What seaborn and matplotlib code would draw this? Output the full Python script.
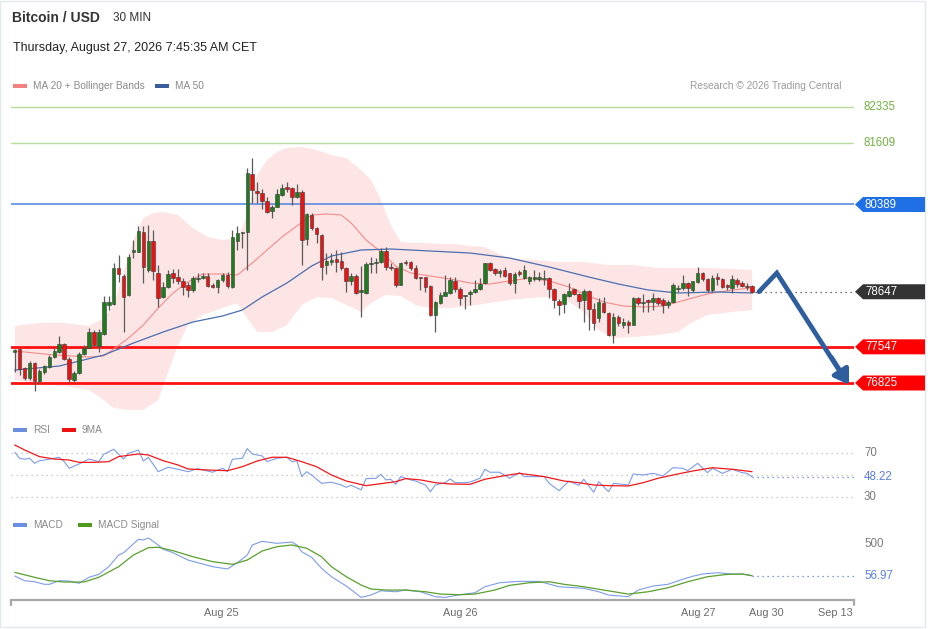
import numpy as np
import seaborn as sns
import matplotlib.pyplot as plt
from matplotlib.patches import Polygon, Rectangle

# ---------------- data (30 min candles) ----------------
opens = [
    77444, 77504, 77124, 76925, 77224, 76865, 77044, 77144, 77344, 77444,
    77603, 77304, 76885, 77024, 77404, 77524, 77843, 77563, 77803, 78382,
    78402, 79121, 78961, 78582, 79440, 79440, 79839, 79081, 79660, 79021,
    78542, 78742, 79021, 78941, 78861, 78781, 78682, 78901, 78921, 78961,
    78781, 78742, 78881, 78981, 78742, 79660, 79810, 79839, 80997, 80658,
    80618, 80458, 80259, 80339, 80578, 80738, 80718, 80538, 80638, 79700,
    80179, 79919, 79779, 79180, 79240, 79300, 79260, 79121, 78861, 78961,
    78642, 78622, 79200, 79220, 79240, 79460, 79141, 79121, 78781, 79240,
    79240, 79121, 78941, 78941, 78761, 78183, 78422, 78562, 78622, 78861,
    78702, 78562, 78602, 78642, 78702, 78821, 79220, 79101, 79021, 79081,
    79021, 78821, 79041, 78921, 78861, 78901, 78901, 78901, 78921, 78702,
    78462, 78402, 78562, 78702, 78602, 78482, 78662, 78302, 78123, 78422,
    78223, 77783, 78143, 77983, 78043, 77983, 78522, 78422, 78482, 78442,
    78522, 78482, 78382, 78442, 78702, 78722, 78821, 78682, 78841, 79021,
    78901, 78682, 78941, 78901, 78781, 78722, 78881, 78821, 78761, 78761,
]
highs = [
    77504, 77524, 77144, 77264, 77244, 77104, 77184, 77384, 77524, 77763,
    77623, 77344, 77064, 77444, 77583, 77923, 77883, 77903, 78562, 78562,
    79220, 79380, 79001, 79400, 79680, 79959, 79959, 79979, 79879, 79180,
    78841, 79081, 79101, 79101, 78921, 78841, 78961, 79021, 79021, 79021,
    78821, 78901, 79021, 79041, 79879, 79959, 79839, 81117, 81317, 80838,
    80698, 80538, 80378, 80698, 80798, 80838, 80738, 80798, 80678, 80219,
    80219, 79939, 79799, 79420, 79420, 79480, 79440, 79141, 79021, 79001,
    79161, 79240, 79340, 79320, 79520, 79540, 79220, 79141, 79240, 79280,
    79260, 79180, 78950, 78950, 78781, 78462, 78642, 78981, 78941, 78941,
    78742, 78590, 78682, 78881, 78921, 79230, 79240, 79121, 79101, 79141,
    79030, 79041, 79081, 79180, 78961, 79081, 79041, 79081, 78941, 78722,
    78502, 78622, 78821, 78722, 78622, 78702, 78682, 78422, 78522, 78542,
    78243, 78223, 78183, 78123, 78083, 78542, 78542, 78602, 78502, 78622,
    78542, 78522, 78482, 78821, 78781, 78981, 78841, 78861, 79141, 79041,
    78921, 78981, 79021, 78921, 78801, 78981, 78921, 78861, 78821, 78781,
]
lows = [
    77044, 76985, 76885, 76885, 76665, 76825, 77004, 77124, 77324, 77424,
    77284, 76845, 76845, 77004, 77384, 77524, 77563, 77444, 77783, 78282,
    78382, 78841, 77843, 78562, 79320, 79440, 78821, 79041, 78881, 78342,
    78522, 78722, 78821, 78801, 78582, 78542, 78642, 78841, 78901, 78742,
    78722, 78622, 78841, 78722, 78722, 79480, 79520, 79081, 80418, 80418,
    80299, 80219, 80119, 80339, 80558, 80638, 80378, 80518, 79180, 79580,
    79879, 79620, 78881, 79001, 79180, 79041, 79081, 78642, 78781, 78602,
    78143, 78602, 79021, 79021, 79220, 79081, 79081, 78742, 78781, 79180,
    79081, 78901, 78682, 78642, 78170, 77843, 78402, 78562, 78602, 78642,
    78382, 78302, 78382, 78622, 78682, 78801, 79061, 78981, 78941, 78941,
    78781, 78622, 78961, 78901, 78801, 78861, 78861, 78781, 78522, 78322,
    78183, 78223, 78542, 78582, 78322, 78043, 77883, 77883, 78043, 78223,
    77763, 77623, 77963, 77923, 77823, 77983, 78382, 78243, 78243, 78282,
    78382, 78223, 78322, 78422, 78642, 78682, 78562, 78642, 78821, 78861,
    78642, 78642, 78781, 78722, 78682, 78622, 78742, 78742, 78682, 78622,
]
closes = [
    77484, 77104, 76925, 77224, 76865, 77064, 77164, 77344, 77464, 77603,
    77304, 76905, 77024, 77404, 77524, 77843, 77583, 77843, 78442, 78442,
    79121, 79001, 78542, 79340, 79480, 79859, 79141, 79660, 79061, 78522,
    78742, 79001, 78921, 78861, 78742, 78682, 78921, 78921, 78961, 78761,
    78742, 78881, 78981, 78761, 79740, 79819, 79839, 81017, 80678, 80618,
    80458, 80239, 80339, 80598, 80718, 80698, 80538, 80638, 79680, 80199,
    79919, 79799, 79141, 79260, 79280, 79240, 79121, 78861, 78961, 78622,
    78682, 79200, 79220, 79240, 79460, 79141, 79121, 78781, 79220, 79220,
    79121, 78921, 78921, 78742, 78183, 78442, 78582, 78642, 78881, 78702,
    78522, 78582, 78642, 78702, 78801, 79220, 79081, 79021, 79061, 78961,
    78821, 79001, 79001, 79081, 78941, 78941, 78941, 78921, 78702, 78482,
    78382, 78602, 78662, 78602, 78462, 78662, 78302, 78023, 78442, 78243,
    77783, 78143, 78023, 78043, 77983, 78522, 78422, 78442, 78442, 78522,
    78422, 78382, 78442, 78781, 78722, 78821, 78722, 78861, 79021, 78901,
    78682, 78921, 78901, 78742, 78742, 78901, 78801, 78761, 78742, 78647,
]

# Bollinger bands / moving averages, read at sample candles
bb_up_idx = [0, 5, 10, 15, 18, 20, 22, 24, 26, 28, 30, 33, 36, 39, 42, 45, 47, 49, 51, 53,
             55, 58, 61, 64, 67, 70, 72, 74, 76, 78, 80, 83, 86, 89, 92, 95, 97, 100, 105,
             110, 115, 120, 125, 130, 135, 140, 145, 149]
bb_up = [77963, 78023, 78023, 77963, 78123, 78382, 79041, 79680, 80119, 80219, 80239, 80179,
         79919, 79740, 79680, 79720, 80179, 80978, 81277, 81437, 81517, 81537, 81477, 81377,
         81317, 81077, 80878, 80478, 79979, 79640, 79620, 79620, 79600, 79600, 79560, 79540,
         79440, 79320, 79280, 79240, 79240, 79180, 79180, 79121, 79121, 79121, 79101, 79081]
bb_low_idx = [0, 5, 10, 15, 18, 20, 23, 26, 29, 31, 33, 35, 38, 42, 45, 47, 49, 52, 55, 58,
              61, 64, 67, 70, 72, 75, 78, 81, 84, 88, 92, 96, 100, 104, 108, 112, 115, 118,
              121, 125, 130, 134, 137, 140, 145, 149]
bb_low = [76885, 76805, 76765, 76685, 76485, 76326, 76286, 76286, 76485, 77044, 77583, 77983,
          78183, 78322, 78422, 78123, 77843, 77843, 77983, 78382, 78542, 78522, 78382, 78243,
          78422, 78582, 78562, 78382, 78322, 78322, 78362, 78422, 78482, 78522, 78542, 78442,
          78243, 77883, 77723, 77743, 77783, 77843, 78043, 78183, 78243, 78282]
ma20_idx = [0, 8, 15, 18, 20, 23, 26, 29, 32, 35, 38, 42, 45, 48, 51, 54, 57, 60, 63, 66,
            68, 71, 74, 77, 80, 84, 88, 92, 96, 100, 104, 108, 112, 116, 119, 123, 127, 131,
            134, 137, 140, 145, 149]
ma20 = [77464, 77384, 77344, 77364, 77504, 77723, 77983, 78322, 78622, 78841, 79001, 79001,
        78981, 79220, 79480, 79740, 79959, 80179, 80199, 80179, 80019, 79680, 79440, 79161,
        79021, 78961, 78901, 78821, 78801, 78861, 78921, 78861, 78742, 78562, 78442, 78362,
        78342, 78362, 78442, 78522, 78602, 78682, 78722]
ma50_idx = [0, 9, 18, 24, 30, 36, 42, 46, 50, 55, 60, 64, 70, 76, 84, 92, 100, 108, 116, 122,
            128, 134, 142, 149]
ma50 = [77084, 77164, 77384, 77623, 77843, 78043, 78163, 78282, 78542, 78821, 79161, 79360,
        79480, 79500, 79460, 79420, 79320, 79141, 78941, 78801, 78682, 78622, 78642, 78622]

# RSI panel
rsi_idx = [0, 1, 2, 3, 4, 5, 7, 9, 10, 11,
           13, 15, 17, 18, 20, 22, 23, 25, 26, 27,
           29, 31, 33, 35, 37, 40, 42, 43, 44, 46,
           47, 48, 50, 51, 53, 55, 56, 57, 58, 59,
           60, 62, 64, 66, 67, 68, 70, 71, 73, 74,
           75, 76, 77, 78, 80, 81, 83, 84, 85, 87,
           88, 89, 91, 92, 94, 95, 96, 98, 100, 102,
           103, 107, 108, 110, 112, 114, 115, 117, 118, 120,
           121, 124, 125, 127, 129, 131, 133, 135, 136, 138,
           140, 141, 143, 145, 147, 148, 149]
rsi_vals = [70.6, 65.2, 64.3, 65.2, 60.6, 63.0, 64.3, 66.1, 62.1, 56.1,
            60.0, 64.5, 62.1, 68.8, 73.4, 64.5, 69.7, 72.7, 62.7, 66.1,
            53.0, 57.0, 55.2, 53.0, 55.7, 52.5, 56.1, 53.0, 64.3, 65.2,
            74.0, 69.1, 67.3, 62.1, 65.2, 66.1, 62.1, 63.0, 48.5, 53.0,
            50.0, 42.4, 43.4, 40.9, 38.8, 40.6, 36.4, 46.7, 47.0, 50.6,
            45.5, 46.1, 41.5, 48.5, 45.5, 44.5, 40.9, 34.8, 40.9, 43.0,
            46.4, 43.0, 43.0, 43.5, 47.0, 55.2, 52.5, 52.5, 47.0, 52.1,
            48.5, 48.5, 42.4, 35.7, 44.5, 40.6, 46.1, 34.3, 43.9, 34.8,
            42.4, 40.9, 50.9, 50.0, 51.5, 49.1, 56.6, 56.1, 53.9, 60.6,
            52.1, 56.1, 51.5, 55.2, 52.1, 51.5, 48.22]
ma9_idx = [0, 2, 5, 8, 11, 13, 16, 19, 21, 25, 27, 30, 33, 35, 39, 43, 46, 49, 52, 55,
           58, 61, 64, 67, 71, 73, 77, 79, 82, 85, 88, 92, 95, 99, 102, 107, 111, 114, 117,
           120, 124, 127, 130, 134, 137, 141, 145, 149]
ma9_vals = [77.3, 72.7, 66.7, 64.5, 63.6, 61.5, 61.5, 62.1, 66.7, 69.1, 68.2, 63.0, 59.1,
            55.5, 54.5, 53.9, 57.5, 62.7, 66.1, 66.1, 62.1, 57.5, 50.0, 44.5, 40.3, 41.5,
            43.9, 46.7, 45.5, 43.0, 41.8, 41.5, 46.1, 49.4, 51.5, 48.5, 44.5, 43.0, 40.9,
            40.3, 40.0, 43.0, 47.0, 50.9, 53.6, 56.6, 55.2, 53.0]

# MACD panel
macd_idx = [0, 2, 4, 6, 7, 9, 11, 13, 15, 17, 19, 21, 22, 25, 26, 27, 29, 30, 32, 35,
            37, 40, 43, 45, 47, 48, 50, 53, 56, 57, 58, 60, 62, 64, 67, 70, 72, 74, 77, 79,
            82, 85, 87, 90, 93, 95, 98, 102, 106, 110, 115, 118, 120, 124, 126, 129, 132,
            135, 137, 139, 142, 145, 147, 149]
macd_vals = [53, -13, -27, -63, -63, -13, -17, -49, 35, 76, 183, 346, 378, 565, 556, 584,
             486, 426, 378, 276, 239, 183, 151, 239, 346, 486, 537, 509, 527, 486, 392, 314,
             160, 43, -87, -245, -213, -153, -167, -143, -167, -236, -245, -208, -181, -97,
             -41, -22, -22, -97, -119, -167, -213, -236, -143, -87, -63, 7, 49, 81, 99, 81,
             81, 56.97]
sig_idx = [0, 4, 7, 10, 14, 17, 21, 24, 27, 29, 32, 36, 40, 44, 47, 50, 53, 56, 59, 62,
           64, 67, 70, 72, 75, 79, 83, 86, 90, 93, 97, 100, 104, 108, 111, 115, 119, 124,
           128, 132, 136, 140, 144, 147, 149]
sig_vals = [104, 35, -13, -31, -31, 35, 183, 346, 448, 454, 406, 322, 253, 216, 276, 402,
            462, 486, 440, 322, 183, 43, -73, -129, -143, -143, -167, -199, -208, -199, -143,
            -78, -41, -27, -63, -97, -143, -199, -167, -111, -27, 43, 76, 81, 57]

levels_green = [82335, 81609]
level_blue = 80389
levels_red = [77547, 76825]
last_price = 78647
rsi_lines = [70, 50, 30]
date_pos = [41.7, 90.0, 138.1, 151.8, 165.9]
date_labels = ['Aug 25', 'Aug 26', 'Aug 27', 'Aug 30', 'Sep 13']

# ---------------- figure ----------------
W, H = 929, 629
sns.set_theme(style="white")
plt.rcParams['font.family'] = ['Liberation Sans', 'DejaVu Sans']

fig = plt.figure(figsize=(W / 100, H / 100), dpi=100)
fig.patch.set_facecolor('white')

LEFT, RIGHT = 11, 854
XMIN, XMAX = -0.75, 169.6
P_TOP, P_BOT = 82575, 76186


def px_axes(x0, y0, x1, y1):
    a = fig.add_axes([x0 / W, 1 - y1 / H, (x1 - x0) / W, (y1 - y0) / H])
    a.set_facecolor('none')
    for s in a.spines.values():
        s.set_visible(False)
    a.set_xticks([])
    a.set_yticks([])
    a.set_xlim(XMIN, XMAX)
    return a


def price_px(p):
    return 95 + (P_TOP - p) / (P_TOP - P_BOT) * 320


# ---- price panel ----
ax = px_axes(LEFT, 95, RIGHT, 415)
ax.set_ylim(P_BOT, P_TOP)

band_x = np.concatenate([bb_up_idx, bb_low_idx[::-1]])
band_y = np.concatenate([bb_up, bb_low[::-1]])
ax.fill(band_x, band_y, color='#fde5e5', lw=0, zorder=1)

for lv in levels_green:
    ax.axhline(lv, color='#b7dd9c', lw=1, zorder=2)
ax.axhline(level_blue, color='#5a8be0', lw=1.2, zorder=2)
for lv in levels_red:
    ax.axhline(lv, color='#ff1010', lw=2, zorder=2)

sns.lineplot(x=ma20_idx, y=ma20, ax=ax, color='#f58a8a', lw=0.8, zorder=3)
sns.lineplot(x=ma50_idx, y=ma50, ax=ax, color='#4a6eb0', lw=0.9, zorder=3)

o = np.array(opens)
c = np.array(closes)
idx = np.arange(len(c))
colors = np.where(c >= o, '#1d7d1d', '#ee1111')
ax.vlines(idx, lows, highs, color='#5a5a5a', lw=0.9, zorder=4)
ax.bar(idx, np.maximum(np.abs(c - o), 18), bottom=np.minimum(o, c), width=0.72,
       color=colors, edgecolor='#3a3a3a', linewidth=0.4, zorder=5)

ax.plot([149.6, XMAX], [last_price, last_price], color='#444444', lw=0.9,
        ls=(0, (1, 3)), zorder=3)

# forecast arrow
ARROW = '#2f5e9f'
ax.plot([150.4, 154.0, 167.0], [last_price, 79021, 77020], color=ARROW, lw=3.4,
        solid_joinstyle='miter', zorder=6)
ax.annotate('', xy=(168.6, 76790), xytext=(165.0, 77340),
            arrowprops=dict(arrowstyle='-|>,head_length=0.7,head_width=0.45',
                            color=ARROW, lw=3.4, shrinkA=0, shrinkB=0), zorder=6)

# ---- RSI panel ----
ax_rsi = px_axes(LEFT, 440, RIGHT, 505)
ax_rsi.set_ylim(22.7, 81.8)
for lv in rsi_lines:
    ax_rsi.axhline(lv, color='#bdbdbd', lw=0.9, ls=(0, (1, 3)))
sns.lineplot(x=rsi_idx, y=rsi_vals, ax=ax_rsi, color='#7d9ce8', lw=0.8)
sns.lineplot(x=ma9_idx, y=ma9_vals, ax=ax_rsi, color='#f01818', lw=0.9)
ax_rsi.plot([149, XMAX], [rsi_vals[-1]] * 2, color='#5b7fe0', lw=0.9, ls=(0, (1, 3)))

# ---- MACD panel ----
ax_m = px_axes(LEFT, 530, RIGHT, 600)
ax_m.set_ylim(-282, 695)
sns.lineplot(x=macd_idx, y=macd_vals, ax=ax_m, color='#7d9ce8', lw=0.8)
sns.lineplot(x=sig_idx, y=sig_vals, ax=ax_m, color='#5aa02c', lw=0.9)
ax_m.plot([149, XMAX], [macd_vals[-1]] * 2, color='#5b7fe0', lw=0.9, ls=(0, (1, 3)))
ax_m.spines['bottom'].set_visible(True)
ax_m.spines['bottom'].set_color('#a8a8a8')
ax_m.spines['bottom'].set_linewidth(1.6)
ax_m.set_xticks(date_pos)
ax_m.set_xticklabels(date_labels, fontsize=7.8, color='#6a6a6a')
ax_m.tick_params(axis='x', length=0, pad=6)
for a in (ax, ax_rsi, ax_m):
    a.set_xlabel('')
    a.set_ylabel('')

# ---- overlay with texts and tags (pixel coords) ----
ov = fig.add_axes([0, 0, 1, 1])
ov.set_xlim(0, W)
ov.set_ylim(H, 0)
ov.axis('off')
ov.set_facecolor('none')

ov.add_patch(Rectangle((0.5, 0.5), 925, 626, fill=False, edgecolor='#e1e8ee', lw=1))
ov.plot([LEFT, LEFT], [600, 605], color='#a8a8a8', lw=1.6)
ov.plot([RIGHT, RIGHT], [600, 605], color='#a8a8a8', lw=1.6)

ov.text(12, 18, 'Bitcoin / USD', fontsize=10, weight='bold', color='#333333', va='center')
ov.text(113, 18, '30 MIN', fontsize=8.5, color='#333333', va='center')
ov.text(13, 48, 'Thursday, August 27, 2026 7:45:35 AM CET', fontsize=9, color='#222222',
        va='center')


def legend_item(x, y, color, label):
    ov.add_patch(Rectangle((x, y - 2), 14, 4, color=color, lw=0))
    ov.text(x + 20, y, label, fontsize=7.3, color='#8a8a8a', va='center')


legend_item(13, 86, '#f58080', 'MA 20 + Bollinger Bands')
legend_item(155, 86, '#3a5c9c', 'MA 50')
ov.text(842, 86, 'Research \u00a9 2026 Trading Central', fontsize=7.3, color='#9a9a9a',
        va='center', ha='right')
legend_item(13, 430, '#6b8fe0', 'RSI')
legend_item(62, 430, '#ee1111', '9MA')
legend_item(13, 525, '#6b8fe0', 'MACD')
legend_item(78, 525, '#4f9a1c', 'MACD Signal')


def tag(price, face):
    y = price_px(price)
    pts = [(855, y), (863, y - 7.5), (925, y - 7.5), (925, y + 7.5), (863, y + 7.5)]
    ov.add_patch(Polygon(pts, closed=True, facecolor=face, edgecolor='none'))
    ov.text(865, y + 0.5, f'{price}', fontsize=8.3, color='white', va='center', ha='left')


for lv in levels_green:
    ov.text(864, price_px(lv), f'{lv}', fontsize=8.3, color='#72b043', va='center')
tag(level_blue, '#1f6fe5')
tag(last_price, '#333333')
for lv in levels_red:
    tag(lv, '#ff0000')

ov.text(864, 453, '70', fontsize=8.3, color='#7a7a7a', va='center')
ov.text(864, 477, '48.22', fontsize=8.3, color='#5b7fe0', va='center')
ov.text(864, 497, '30', fontsize=8.3, color='#7a7a7a', va='center')
ov.text(864, 544, '500', fontsize=8.3, color='#7a7a7a', va='center')
ov.text(864, 576, '56.97', fontsize=8.3, color='#5b7fe0', va='center')

fig.savefig('out.png', dpi=100)
